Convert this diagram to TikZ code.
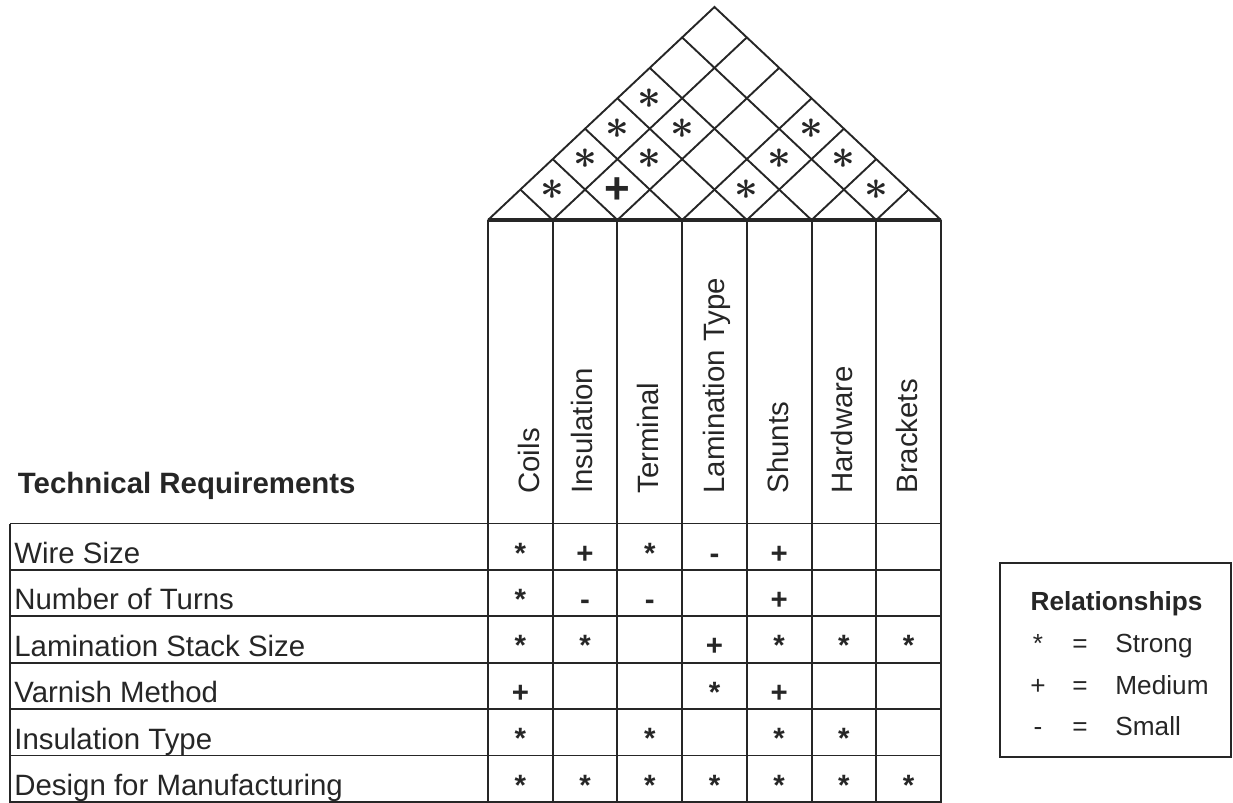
\documentclass[tikz,border=0pt]{standalone}
\usepackage{fontspec}
\setmainfont{Liberation Sans}
\newcommand{\colx}{488}     % left edge of the part columns
\newcommand{\colw}{64.71}   % width of one part column
\newcommand{\rowy}{523.5}   % top of the first requirement row
\newcommand{\rowh}{46.4}    % height of one requirement row
\newcommand{\roofy}{220}    % base of the roof
\newcommand{\roofk}{0.9405} % vertical squash of the roof

\begin{document}
\begin{tikzpicture}[x=0.5pt, y=-0.5pt,
	gridline/.style={line width=0.95pt, color=black!85},
	roofbase/.style={line width=1.8pt, color=black!85},
	reqtext/.style={anchor=base west, inner sep=0pt, text=black!85, font=\fontsize{14.7}{16}\selectfont},
	titletext/.style={anchor=base west, inner sep=0pt, text=black!85, font=\fontsize{14.7}{16}\selectfont\bfseries},
	parttext/.style={rotate=90, anchor=base west, inner sep=0pt, text=black!85, font=\fontsize{14.7}{16}\selectfont},
	cellsym/.style={anchor=base, inner sep=0pt, text=black!85, font=\fontsize{14.7}{16}\selectfont\bfseries},
	roofsym/.style={inner sep=0pt, text=black!85, font=\fontsize{21}{21}\selectfont\boldmath},
	legtext/.style={inner sep=0pt, text=black!85, font=\fontsize{13.1}{15}\selectfont}]

\useasboundingbox (0,0) rectangle (1233,803);

% roof
\draw[gridline] (\colx,\roofy) -- (\colx+3.5*\colw, \roofy-\roofk*3.5*\colw) -- (\colx+7*\colw,\roofy);
\foreach \k in {1,...,6}
{
	\draw[gridline] (\colx+\k*\colw, \roofy) -- ({\colx+\k*\colw+(7-\k)*\colw/2}, {\roofy-\roofk*(7-\k)*\colw/2});
	\draw[gridline] (\colx+\k*\colw, \roofy) -- ({\colx+\k*\colw/2}, {\roofy-\roofk*\k*\colw/2});
}
\foreach \a/\b in {1/2, 4/5, 6/7, 1/3, 2/4, 4/6, 5/7, 1/4, 2/5, 4/7, 1/5}
	\node[roofsym] (roof\a\b) at ({\colx+(\a+\b-1)/2*\colw}, {\roofy-\roofk*(\b-\a)*\colw/2}) {$\ast$};
\node[roofsym, font=\fontsize{22}{22}\selectfont\bfseries] (roof23) at ({\colx+2*\colw}, {\roofy-\roofk*\colw/2+1}) {+};

% columns and rows
\foreach \k in {0,...,7}
	\draw[gridline] (\colx+\k*\colw, \roofy) -- (\colx+\k*\colw, 803);
\foreach \r in {0,...,6}
	\draw[gridline] (10, \rowy+\r*\rowh) -- (\colx+7*\colw, \rowy+\r*\rowh);
\draw[gridline] (10, \rowy) -- (10, 803);
\draw[roofbase] (\colx, \roofy) -- (\colx+7*\colw, \roofy);

% part names
\foreach \c/\bx/\name in {1/539/Coils, 2/592/Insulation, 3/658/Terminal, 4/724/Lamination Type, 5/788/Shunts, 6/852/Hardware, 7/917/Brackets}
	\node[parttext] (part\c) at (\bx, 494) {\name};

% requirements
\node[titletext] (title) at (17.5, 493) {Technical Requirements};
\foreach \r/\name in {1/Wire Size, 2/Number of Turns, 3/Lamination Stack Size, 4/Varnish Method, 5/Insulation Type, 6/Design for Manufacturing}
	\node[reqtext] (req\r) at (14, {\rowy+\r*\rowh-6.5}) {\name};

% relationship matrix
\foreach \r/\c/\s in {1/1/*, 1/2/+, 1/3/*, 1/4/-, 1/5/+,
		2/1/*, 2/2/-, 2/3/-, 2/5/+,
		3/1/*, 3/2/*, 3/4/+, 3/5/*, 3/6/*, 3/7/*,
		4/1/+, 4/4/*, 4/5/+,
		5/1/*, 5/3/*, 5/5/*, 5/6/*,
		6/1/*, 6/2/*, 6/3/*, 6/4/*, 6/5/*, 6/6/*, 6/7/*}
	\node[cellsym] (cell\r\c) at ({\colx+(\c-0.5)*\colw}, {\rowy+(\r-1)*\rowh+39.5}) {\s};

% legend
\draw[gridline] (1000,563) rectangle (1231,757);
\node[legtext, anchor=base, font=\fontsize{13.1}{15}\selectfont\bfseries] (legend) at (1116.5, 610) {Relationships};
\foreach \i/\s/\name in {1/*/Strong, 2/+/Medium, 3/-/Small}
{
	\node[legtext, anchor=base] (legsym\i) at (1038, {611+\i*41.5}) {\s};
	\node[legtext, anchor=base] (legeq\i) at (1080, {611+\i*41.5}) {=};
	\node[legtext, anchor=base west] (leg\i) at (1115, {611+\i*41.5}) {\name};
}
\end{tikzpicture}
\end{document}
